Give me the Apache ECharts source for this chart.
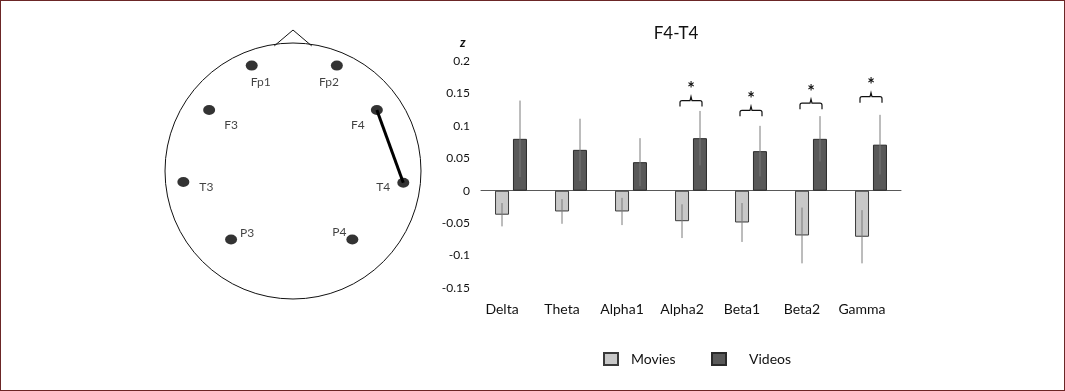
<!DOCTYPE html>
<html>
<head>
<meta charset="utf-8">
<script src="https://cdn.jsdelivr.net/npm/echarts@6/dist/echarts.min.js"></script>
<style>
  html, body { margin: 0; padding: 0; background: #fff; }
  #main { width: 1065px; height: 391px; box-sizing: border-box; border: 1px solid #6b2626; }
</style>
</head>
<body>
<div id="main"></div>
<script>
// bar chart data (z scores)
var categories = ['Delta', 'Theta', 'Alpha1', 'Alpha2', 'Beta1', 'Beta2', 'Gamma'];
var moviesMean = [-0.037, -0.032, -0.032, -0.047, -0.049, -0.069, -0.071];
var moviesErr  = [0.018, 0.019, 0.021, 0.026, 0.030, 0.043, 0.041];
var videosMean = [0.080, 0.063, 0.044, 0.081, 0.061, 0.080, 0.071];
var videosErr  = [0.059, 0.048, 0.037, 0.042, 0.039, 0.035, 0.046];
// significance brackets
var sigCategories = ['Alpha2', 'Beta1', 'Beta2', 'Gamma'];
var sigLevel = [0.139, 0.124, 0.135, 0.145];

// head diagram (unit circle coordinates)
var electrodeNames = ['Fp1', 'Fp2', 'F3', 'F4', 'T3', 'T4', 'P3', 'P4'];
var electrodeX = [-0.32, 0.34, -0.65, 0.65, -0.85, 0.855, -0.48, 0.46];
var electrodeY = [0.83, 0.83, 0.48, 0.48, -0.086, -0.092, -0.54, -0.54];
var connection = ['F4', 'T4'];
var noseX = [-0.145, 0, 0.145];
var noseY = [0.985, 1.11, 0.985];

// label offsets (px) for electrode names
var labelOffset = {
  Fp1: [9, 17], Fp2: [-8, 17], F3: [22, 15], F4: [-19, 15],
  T3: [23, 5], T4: [-20, 4], P3: [16, -6], P4: [-13, -7]
};

var FONT = 'Lato, "Open Sans", sans-serif';
var chart = echarts.init(document.getElementById('main'));

function errorSeries(name, means, errs, dx) {
  return {
    type: 'custom',
    name: name + ' err',
    xAxisIndex: 0, yAxisIndex: 0,
    z: 5,
    silent: true,
    data: means.map(function (m, i) { return [i, m - errs[i], m + errs[i]]; }),
    renderItem: function (params, api) {
      var lo = api.coord([api.value(0), api.value(1)]);
      var hi = api.coord([api.value(0), api.value(2)]);
      return {
        type: 'line',
        shape: { x1: lo[0] + dx, y1: lo[1], x2: hi[0] + dx, y2: hi[1] },
        style: { stroke: '#7a7a7a', lineWidth: 1 }
      };
    }
  };
}

var electrodeData = electrodeNames.map(function (n, i) {
  return {
    name: n,
    value: [electrodeX[i], electrodeY[i]],
    label: { offset: labelOffset[n] }
  };
});
var connData = connection.map(function (n) {
  var i = electrodeNames.indexOf(n);
  return [electrodeX[i], electrodeY[i]];
});

chart.setOption({
  animation: false,
  textStyle: { fontFamily: FONT },
  title: {
    text: 'F4-T4',
    left: 675, top: 24, textAlign: 'center', padding: 0,
    textStyle: { fontFamily: FONT, fontSize: 17, fontWeight: 'normal', color: '#111' }
  },
  legend: [{
    data: ['Movies'], left: 602, top: 351, padding: 0,
    icon: 'rect', itemWidth: 14, itemHeight: 12,
    textStyle: { fontFamily: FONT, fontSize: 14, color: '#111', padding: [0, 0, 0, 8] }
  }, {
    data: ['Videos'], left: 710, top: 351, padding: 0,
    icon: 'rect', itemWidth: 14, itemHeight: 12,
    textStyle: { fontFamily: FONT, fontSize: 14, color: '#111', padding: [0, 0, 0, 18] }
  }],
  graphic: [{
    type: 'text', left: 459, top: 35,
    style: { text: 'z', font: 'italic bold 13px ' + FONT, fill: '#111' }
  }],
  grid: [
    { left: 480, right: 163, top: 60, bottom: 102 },
    { left: 163, top: 43, width: 258, height: 254 }
  ],
  xAxis: [{
    type: 'category', gridIndex: 0, data: categories,
    axisLine: { show: false, onZero: false },
    axisTick: { show: false },
    axisLabel: { interval: 0, fontSize: 14, color: '#111', margin: 14, padding: [0, 18, 0, 0] }
  }, {
    type: 'category', gridIndex: 0, data: categories, position: 'bottom',
    axisLine: { onZero: true, lineStyle: { color: '#595959', width: 1 } },
    axisTick: { show: false },
    axisLabel: { show: false }
  }, {
    type: 'value', gridIndex: 1, min: -1, max: 1, show: false
  }],
  yAxis: [{
    type: 'value', gridIndex: 0, min: -0.15, max: 0.2, interval: 0.05,
    axisLine: { show: false }, axisTick: { show: false },
    splitLine: { show: false },
    axisLabel: { fontSize: 12, color: '#111', margin: 11 }
  }, {
    type: 'value', gridIndex: 1, min: -1, max: 1, show: false
  }],
  series: [{
    name: 'Movies', type: 'bar', xAxisIndex: 0, yAxisIndex: 0,
    data: moviesMean, barWidth: 14, barGap: '28%',
    itemStyle: { color: '#c8c8c8', borderColor: '#3a3a3a', borderWidth: 1 }
  }, {
    name: 'Videos', type: 'bar', xAxisIndex: 0, yAxisIndex: 0,
    data: videosMean, barWidth: 14,
    itemStyle: { color: '#595959', borderColor: '#2a2a2a', borderWidth: 1 }
  },
  errorSeries('Movies', moviesMean, moviesErr, -9),
  errorSeries('Videos', videosMean, videosErr, 9),
  {
    type: 'custom', name: 'significance', xAxisIndex: 0, yAxisIndex: 0, silent: true, z: 6,
    data: sigCategories.map(function (c, i) { return [categories.indexOf(c), sigLevel[i]]; }),
    renderItem: function (params, api) {
      var p = api.coord([api.value(0), api.value(1)]);
      var x = p[0], y = p[1], w = 11;
      var d = 'M' + (x - w) + ' ' + (y + 6) +
        ' L' + (x - w) + ' ' + (y + 2) +
        ' Q' + (x - w) + ' ' + y + ' ' + (x - w + 2) + ' ' + y +
        ' L' + (x - 1) + ' ' + y + ' L' + x + ' ' + (y - 4) +
        ' L' + (x + 1) + ' ' + y +
        ' L' + (x + w - 2) + ' ' + y +
        ' Q' + (x + w) + ' ' + y + ' ' + (x + w) + ' ' + (y + 2) +
        ' L' + (x + w) + ' ' + (y + 6);
      return {
        type: 'group',
        children: [{
          type: 'path',
          shape: { pathData: d },
          style: { stroke: '#111', lineWidth: 1.2, fill: null }
        }, {
          type: 'text',
          x: x, y: y - 11,
          style: { text: '*', font: 'bold 18px ' + FONT, fill: '#111', align: 'center', verticalAlign: 'middle' }
        }]
      };
    }
  },
  // head outline
  {
    type: 'custom', name: 'head', xAxisIndex: 2, yAxisIndex: 1, silent: true,
    data: [[0, 0]],
    renderItem: function (params, api) {
      var c = api.coord([0, 0]);
      var s = api.size([1, 1]);
      var nose = noseX.map(function (nx, i) { return api.coord([nx, noseY[i]]); });
      return {
        type: 'group',
        children: [{
          type: 'circle',
          shape: { cx: c[0], cy: c[1], r: (s[0] + s[1]) / 2 },
          style: { stroke: '#111', lineWidth: 1, fill: null }
        }, {
          type: 'polyline',
          shape: { points: nose },
          style: { stroke: '#111', lineWidth: 1, fill: null }
        }]
      };
    }
  }, {
    type: 'line', name: 'connection', xAxisIndex: 2, yAxisIndex: 1, silent: true,
    data: connData, symbol: 'none',
    lineStyle: { color: '#000', width: 3 }
  }, {
    type: 'scatter', name: 'electrodes', xAxisIndex: 2, yAxisIndex: 1, silent: true,
    data: electrodeData, symbol: 'circle', symbolSize: [12, 10], z: 4,
    itemStyle: { color: '#000' },
    label: {
      show: true, position: 'inside', formatter: '{b}',
      fontFamily: FONT, fontSize: 12, color: '#111'
    }
  }]
});
</script>
</body>
</html>
